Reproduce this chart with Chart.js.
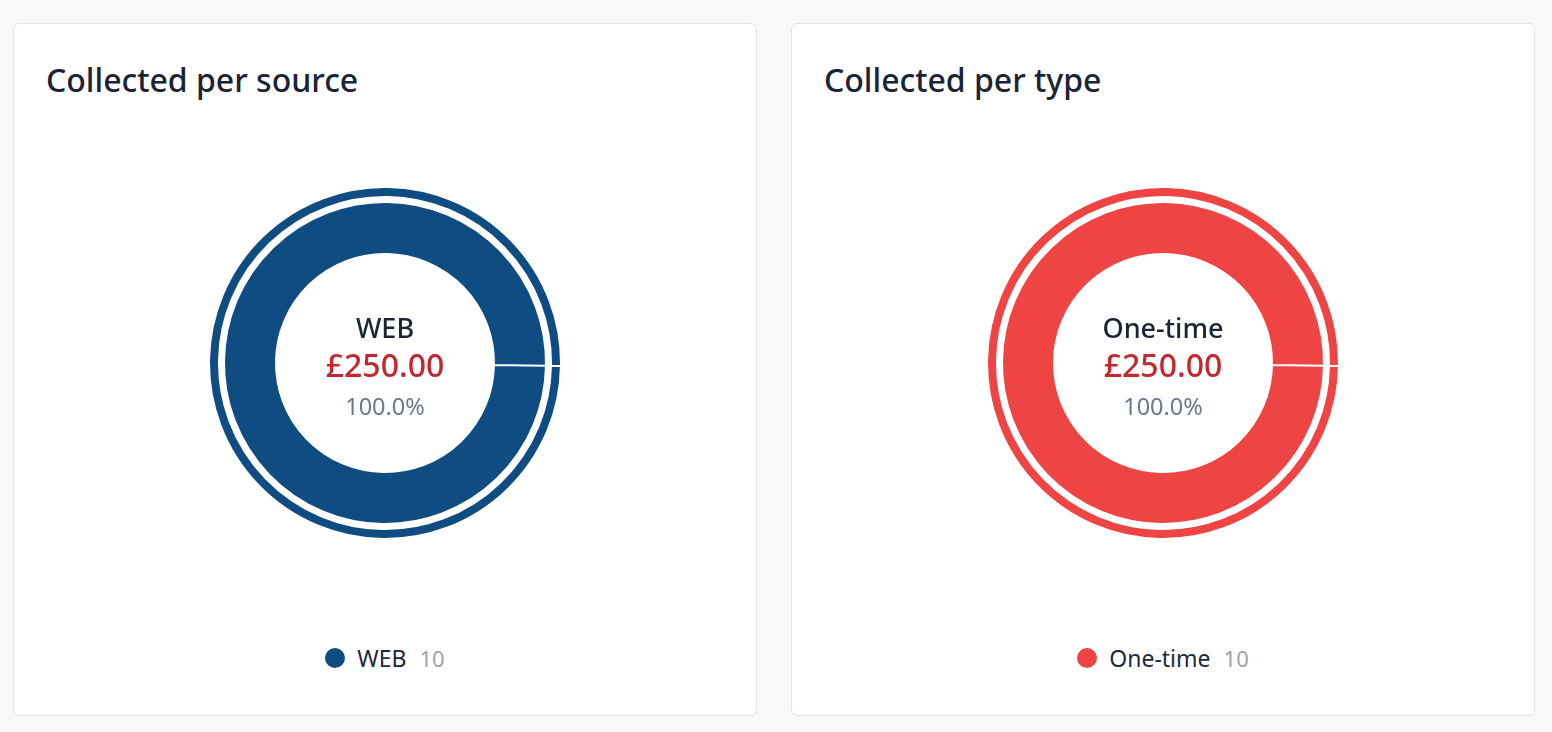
<!DOCTYPE html>
<html>
<head>
<meta charset="utf-8" />
<script src="https://cdn.jsdelivr.net/npm/chart.js@4"></script>
<style>
  body {
    margin: 0;
    background: #f8f8f9;
    font-family: "Noto Sans", "Open Sans", sans-serif;
    width: 1552px;
    height: 732px;
    overflow: hidden;
  }
  .card {
    position: absolute;
    top: 23px;
    width: 744px;
    height: 693px;
    background: #fff;
    border: 1px solid #e3e4e9;
    border-radius: 6px;
    box-sizing: border-box;
  }
  .card h2 {
    position: absolute;
    left: 32px;
    top: 34px;
    margin: 0;
    font-size: 32px;
    font-weight: 500;
    line-height: normal;
    color: #1a2436;
  }
  .chart-box {
    position: absolute;
    left: 0;
    top: 162px;
    width: 100%;
    height: 354px;
  }
  .center-text {
    position: absolute;
    left: 0;
    right: 0;
    top: 125px;
    text-align: center;
    pointer-events: none;
  }
  .center-text .name {
    font-size: 27px;
    font-weight: 500;
    color: #1a2436;
    line-height: 34px;
  }
  .center-text .amount {
    font-size: 32px;
    font-weight: 500;
    color: #c4272d;
    line-height: 40px;
  }
  .center-text .pct {
    font-size: 23.5px;
    color: #687890;
    line-height: 42px;
  }
  .legend {
    position: absolute;
    left: 0;
    right: 0;
    top: 619px;
    height: 30px;
    display: flex;
    justify-content: center;
    align-items: center;
    font-size: 23px;
    color: #1e293b;
  }
  .legend .item {
    display: flex;
    align-items: center;
  }
  .legend .dot {
    width: 20px;
    height: 20px;
    border-radius: 50%;
    margin-right: 12px;
  }
  .legend .count {
    color: #9ca3af;
    font-size: 22px;
    margin-left: 13px;
  }
</style>
</head>
<body>
<div class="card" style="left: 13px">
  <h2>Collected per source</h2>
  <div class="chart-box">
    <canvas id="sourceChart"></canvas>
    <div class="center-text" id="sourceCenter"></div>
  </div>
  <div class="legend" id="sourceLegend"></div>
</div>
<div class="card" style="left: 791px">
  <h2>Collected per type</h2>
  <div class="chart-box">
    <canvas id="typeChart"></canvas>
    <div class="center-text" id="typeCenter"></div>
  </div>
  <div class="legend" id="typeLegend"></div>
</div>

<script>
  // collected per source
  const sourceLabels = ["WEB"];
  const sourceAmounts = [250];
  const sourceCounts = [10];
  const sourceColors = ["#0f4c81"];

  // collected per type
  const typeLabels = ["One-time"];
  const typeAmounts = [250];
  const typeCounts = [10];
  const typeColors = ["#ef4444"];

  function money(v) {
    return "£" + v.toFixed(2);
  }

  function drawDonut(canvasId, centerId, legendId, labels, amounts, counts, colors) {
    const total = amounts.reduce((a, b) => a + b, 0);

    // outer thin ring, empty spacer ring, main ring
    new Chart(document.getElementById(canvasId), {
      type: "doughnut",
      data: {
        labels: labels,
        datasets: [
          {
            data: amounts,
            backgroundColor: colors,
            borderColor: "#fff",
            borderWidth: 2,
            weight: 10,
          },
          {
            data: amounts,
            backgroundColor: "rgba(0,0,0,0)",
            borderWidth: 0,
            weight: 5,
          },
          {
            data: amounts,
            backgroundColor: colors,
            borderColor: "#fff",
            borderWidth: 2,
            weight: 52,
          },
        ],
      },
      options: {
        responsive: true,
        maintainAspectRatio: false,
        animation: false,
        cutout: 109,
        rotation: 91,
        events: [],
        plugins: {
          legend: { display: false },
          tooltip: { enabled: false },
        },
      },
    });

    const c = document.getElementById(centerId);
    c.innerHTML =
      '<div class="name">' + labels[0] + "</div>" +
      '<div class="amount">' + money(amounts[0]) + "</div>" +
      '<div class="pct">' + ((amounts[0] / total) * 100).toFixed(1) + "%</div>";

    const lg = document.getElementById(legendId);
    lg.innerHTML = labels
      .map(
        (l, i) =>
          '<span class="item"><span class="dot" style="background:' + colors[i] + '"></span>' +
          l + '<span class="count">' + counts[i] + "</span></span>"
      )
      .join("");
  }

  drawDonut("sourceChart", "sourceCenter", "sourceLegend", sourceLabels, sourceAmounts, sourceCounts, sourceColors);
  drawDonut("typeChart", "typeCenter", "typeLegend", typeLabels, typeAmounts, typeCounts, typeColors);
</script>
</body>
</html>
